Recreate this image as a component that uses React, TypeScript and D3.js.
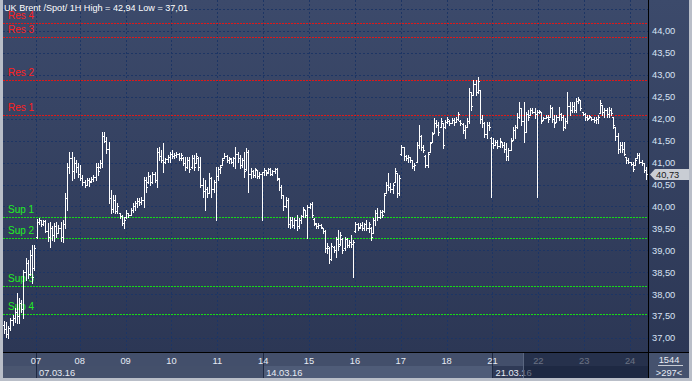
import React from "react";
import * as d3 from "d3";

const title = "UK Brent /Spot/ 1H High = 42,94 Low = 37,01";

// hourly OHLC bars, one entry per bar (04.03 tail, then 07.03 ... 24.03)
const opens = [
  // 04
  37.30,37.20,37.10,37.22,37.40,37.45,37.60,37.50,37.80,37.65,38.50,38.70,38.45,38.90,38.60,
  // 07
  39.30,39.65,39.68,39.60,39.66,39.45,39.30,39.50,39.35,39.55,39.40,39.50,39.30,39.60,40.20,40.90,41.10,40.80,41.00,40.90,
  // 08
  40.75,40.65,40.55,40.50,40.60,40.58,40.62,40.68,40.90,40.90,41.00,41.60,41.50,41.30,40.20,39.95,40.15,39.90,39.85,39.78,39.62,
  // 09
  39.75,39.85,39.80,39.92,40.00,40.08,40.12,40.10,40.15,40.60,40.55,40.70,40.55,40.75,40.60,41.25,41.15,41.05,41.02,41.08,41.12,
  // 10
  41.20,41.15,41.18,41.20,41.10,41.10,41.00,40.90,41.05,40.90,41.10,41.00,41.10,40.90,40.50,40.35,40.40,40.30,40.65,40.40,40.55,
  // 11
  40.70,40.85,40.94,41.10,41.15,41.05,41.08,41.02,41.10,41.20,41.10,40.95,41.05,40.85,41.25,40.75,40.80,40.72,40.83,40.70,40.75,
  // 14
  40.78,40.82,40.78,40.85,40.75,40.80,40.85,40.62,40.45,40.25,40.00,40.15,39.60,39.70,39.58,39.68,39.55,39.70,39.78,39.92,39.80,
  // 15
  39.98,40.05,39.72,39.60,39.55,39.58,39.50,39.44,39.05,39.05,38.80,39.08,39.00,39.25,39.15,39.25,39.05,39.25,39.12,39.20,39.15,
  // 16
  39.45,39.60,39.52,39.58,39.50,39.60,39.50,39.50,39.40,39.70,39.85,39.75,39.88,39.90,40.31,40.50,40.45,40.40,40.56,40.76,40.30,
  // 17
  41.20,41.35,41.15,41.10,41.12,41.05,40.92,41.01,41.40,41.60,41.35,41.15,40.95,41.24,41.47,41.67,41.90,41.85,41.81,41.90,41.80,
  // 18
  41.92,41.95,41.90,41.98,41.93,42.00,41.95,41.88,41.75,41.82,41.95,42.60,42.54,42.80,42.60,42.65,42.00,41.90,41.65,41.85,41.55,
  // 21
  41.45,41.40,41.48,41.38,41.47,41.40,41.30,41.15,41.29,41.52,41.75,41.80,42.05,42.25,41.95,41.70,42.10,42.09,42.20,42.15,42.10,
  // 22
  42.15,42.16,41.97,42.02,42.05,42.04,42.25,42.00,41.93,42.05,42.10,42.05,41.80,41.95,42.30,42.20,42.30,42.20,42.40,42.43,42.15,
  // 23
  42.10,42.05,42.02,42.04,42.00,41.96,42.00,42.13,42.31,42.15,42.20,42.10,42.20,42.04,41.81,41.60,41.30,41.40,41.30,41.13,41.05,
  // 24
  41.01,40.97,40.95,41.10,41.18,41.02,40.98,40.82,
];
const highs = [
  37.39,37.37,37.27,37.46,37.52,37.68,38.03,37.91,37.87,38.55,38.82,38.78,39.01,39.12,39.12,
  39.71,39.74,39.69,39.69,39.69,39.62,39.65,39.55,39.62,39.65,39.58,39.65,39.69,40.31,40.99,41.24,41.24,41.13,41.06,40.99,
  40.94,40.72,40.60,40.65,40.65,40.67,40.72,40.99,40.99,41.06,41.70,41.70,41.58,41.47,40.37,40.26,40.26,40.08,39.85,39.80,39.76,
  39.92,39.85,39.96,40.08,40.12,40.19,40.19,40.22,40.67,40.67,40.79,40.72,40.79,40.79,41.33,41.36,41.29,41.45,41.10,41.17,41.24,
  41.29,41.22,41.24,41.22,41.22,41.13,41.13,41.13,41.13,41.17,41.17,41.22,41.13,41.13,40.65,40.60,40.44,40.76,40.67,40.60,40.90,
  40.90,40.94,41.10,41.22,41.17,41.13,41.10,41.13,41.36,41.24,41.17,41.10,41.24,41.33,41.29,40.88,40.83,40.88,40.83,40.79,40.79,
  40.88,40.83,40.88,40.88,40.83,40.88,40.88,40.65,40.49,40.26,40.22,40.19,39.76,39.76,39.74,39.80,39.74,39.80,39.99,39.92,40.03,
  40.08,40.10,39.74,39.62,39.62,39.60,39.51,39.46,39.17,39.08,39.17,39.10,39.30,39.46,39.42,39.28,39.30,39.28,39.24,39.35,39.24,
  39.65,39.62,39.62,39.65,39.62,39.69,39.65,39.53,39.74,39.92,39.96,39.92,39.92,40.31,40.56,40.76,40.53,40.53,40.88,40.76,40.72,
  41.40,41.36,41.17,41.17,41.13,41.06,40.99,41.47,41.86,41.63,41.40,41.17,41.24,41.47,41.70,42.02,41.97,41.92,42.02,41.90,41.97,
  42.04,41.97,42.02,42.02,42.04,42.16,41.97,41.90,41.86,42.02,42.70,42.61,42.88,42.88,42.94,42.65,42.09,41.93,41.93,41.93,41.58,
  41.56,41.52,41.52,41.56,41.47,41.47,41.45,41.33,41.56,41.81,41.86,42.13,42.38,42.25,42.38,42.16,42.20,42.25,42.25,42.25,42.20,
  42.20,42.16,42.04,42.09,42.09,42.31,42.27,42.09,42.09,42.27,42.13,42.09,42.02,42.61,42.38,42.38,42.38,42.47,42.50,42.43,42.15,
  42.13,42.09,42.09,42.04,42.04,42.04,42.09,42.43,42.31,42.25,42.25,42.27,42.25,42.04,41.81,41.67,41.47,41.47,41.47,41.13,41.10,
  41.01,41.01,41.10,41.22,41.22,41.06,40.99,40.90,
];
const lows = [
  37.12,37.02,37.01,37.18,37.30,37.37,37.34,37.34,37.59,37.46,38.32,38.37,38.44,38.26,38.55,
  39.28,39.60,39.55,39.58,39.42,39.21,39.08,39.24,39.21,39.30,39.40,39.21,39.19,39.51,39.92,40.76,40.60,40.65,40.79,40.67,
  40.60,40.49,40.44,40.49,40.47,40.56,40.58,40.60,40.72,40.88,40.90,41.47,41.22,40.08,39.85,39.87,39.85,39.85,39.74,39.58,39.51,
  39.74,39.76,39.80,39.87,39.92,39.99,40.03,40.06,39.99,40.33,40.53,40.49,40.53,40.56,40.44,41.06,41.01,40.79,40.99,41.01,41.01,
  41.11,41.11,41.13,41.06,41.06,40.95,40.83,40.88,40.79,40.88,40.83,40.99,40.83,40.44,40.22,39.92,40.22,40.31,40.22,40.33,39.69,
  40.60,40.76,40.94,41.10,41.01,40.99,40.99,40.92,40.88,41.01,40.88,40.90,40.67,40.83,40.33,40.65,40.67,40.67,40.65,40.65,39.69,
  40.72,40.72,40.76,40.72,40.72,40.76,40.60,40.37,40.19,39.92,39.99,39.53,39.51,39.53,39.51,39.46,39.51,39.62,39.76,39.76,39.28,
  39.96,39.76,39.58,39.51,39.51,39.51,39.40,38.96,38.94,38.71,38.78,38.96,38.85,39.01,39.12,38.94,39.01,39.08,39.08,39.08,38.39,
  39.42,39.46,39.51,39.46,39.46,39.46,39.42,39.24,39.40,39.58,39.69,39.74,39.76,39.87,40.31,40.37,40.33,40.31,40.56,40.22,40.26,
  41.17,41.06,41.06,41.01,41.01,40.88,40.83,41.01,41.33,41.29,41.24,40.90,40.90,41.24,41.47,41.67,41.81,41.63,41.81,41.33,41.79,
  41.90,41.86,41.90,41.86,41.93,41.97,41.86,41.67,41.56,41.81,41.90,42.20,42.54,42.54,42.59,41.90,41.81,41.58,41.56,41.74,40.21,
  41.33,41.40,41.33,41.36,41.36,41.24,41.06,41.06,41.29,41.52,41.56,41.79,42.02,41.86,41.47,41.70,41.97,42.09,42.13,42.02,40.21,
  42.13,41.90,41.97,42.02,41.93,42.04,41.93,41.81,41.93,41.97,41.97,41.74,41.79,41.90,42.09,42.15,42.15,42.15,42.36,42.20,42.09,
  41.97,41.97,42.02,41.97,41.93,41.90,41.90,42.13,42.09,42.04,42.04,42.04,42.09,41.79,41.52,41.22,41.24,41.24,41.17,40.99,40.99,
  40.95,40.81,40.95,41.10,40.99,40.95,40.79,40.62,
];
const closes = [
  37.20,37.10,37.22,37.40,37.45,37.60,37.50,37.80,37.65,38.50,38.70,38.45,38.90,38.40,39.05,
  39.65,39.68,39.60,39.66,39.45,39.30,39.50,39.35,39.55,39.40,39.50,39.30,39.60,40.20,40.90,41.10,40.80,41.00,40.90,40.75,
  40.65,40.55,40.50,40.60,40.55,40.62,40.68,40.90,40.80,41.00,41.60,41.50,41.30,40.20,39.95,40.15,39.90,40.00,39.78,39.62,39.70,
  39.85,39.80,39.92,40.00,40.08,40.12,40.10,40.15,40.60,40.45,40.70,40.55,40.75,40.60,41.25,41.15,41.05,41.02,41.08,41.12,41.20,
  41.15,41.18,41.20,41.10,41.18,41.00,40.90,41.05,40.85,41.10,40.90,41.15,40.90,40.50,40.35,40.40,40.30,40.65,40.40,40.55,40.70,
  40.85,40.90,41.05,41.15,41.05,41.10,41.02,41.10,41.20,41.10,40.95,41.05,40.80,41.25,40.75,40.80,40.72,40.85,40.70,40.75,40.78,
  40.82,40.76,40.85,40.75,40.80,40.85,40.65,40.45,40.25,40.00,40.15,39.60,39.70,39.58,39.68,39.55,39.70,39.78,39.95,39.80,39.98,
  40.05,39.80,39.62,39.55,39.58,39.53,39.44,39.05,39.10,38.80,39.10,39.00,39.25,39.10,39.35,39.00,39.25,39.12,39.20,39.15,39.20,
  39.60,39.50,39.58,39.50,39.60,39.50,39.60,39.30,39.70,39.85,39.75,39.88,39.80,40.25,40.50,40.45,40.40,40.50,40.80,40.30,40.65,
  41.35,41.15,41.10,41.12,41.05,40.92,40.95,41.40,41.60,41.35,41.28,40.95,41.20,41.45,41.65,41.90,41.85,41.70,41.95,41.40,41.92,
  42.00,41.90,41.98,41.92,42.00,42.10,41.90,41.75,41.80,41.95,42.60,42.30,42.80,42.60,42.85,42.00,41.90,41.65,41.85,41.80,41.45,
  41.40,41.48,41.38,41.50,41.40,41.30,41.15,41.28,41.50,41.75,41.80,42.05,42.25,41.95,41.70,42.10,42.05,42.20,42.15,42.10,42.15,
  42.18,41.95,42.02,42.05,42.00,42.25,42.00,41.90,42.05,42.10,42.05,41.80,41.95,42.30,42.20,42.30,42.20,42.40,42.45,42.25,42.10,
  42.05,42.00,42.06,42.00,41.96,42.00,42.05,42.35,42.15,42.20,42.10,42.20,42.12,41.85,41.60,41.30,41.40,41.30,41.20,41.05,41.02,
  40.97,40.85,41.05,41.18,41.02,40.98,40.82,40.73,
];

const dayLabels = ["07", "08", "09", "10", "11", "14", "15", "16", "17", "18", "21", "22", "23", "24"];
const dayStarts = [15, 35, 56, 77, 98, 119, 140, 161, 182, 203, 224, 245, 266, 287];
const weekLabels = ["07.03.16", "14.03.16", "21.03.16"];
const weekStarts = [15, 119, 224];
const priceTicks = [37, 37.5, 38, 38.5, 39, 39.5, 40, 40.5, 41, 41.5, 42, 42.5, 43, 43.5, 44];
const gridPrices = [37, 37.5, 38, 38.5, 39, 39.5, 40, 40.5, 41, 41.5, 42, 42.5, 43, 43.5, 44, 44.5];
const resNames = ["Res 1", "Res 2", "Res 3", "Res 4"];
const resLevels = [42.08, 42.88, 43.86, 44.18];
const supNames = ["Sup 1", "Sup 2", "Sup 3", "Sup 4"];
const supLevels = [39.76, 39.28, 38.19, 37.55];
const lastPrice = 40.73;
const totalBarsLabel = "1544";
const visibleBarsLabel = ">297<";

const fmt = (v: number) => v.toFixed(2).replace(".", ",");
const FONT = "'Liberation Sans', Arial, sans-serif";

export default function App() {
  const N = opens.length;
  const x = d3.scaleLinear().domain([0, 295.2]).range([3.25, 648]);
  const y = d3.scaleLinear().domain([37, 44]).range([338, 31]);
  const py = (v: number) => Math.round(y(v));

  const bars = d3.range(N).map((i) => {
    const cx = Math.floor(x(i + 0.5));
    const yh = py(highs[i]);
    const yl = py(lows[i]);
    return (
      <g key={i}>
        <rect x={cx} y={yh} width={1} height={Math.max(1, yl - yh + 1)} fill="#ffffff" />
        <rect x={cx - 1} y={py(opens[i])} width={1} height={1} fill="#ffffff" />
        <rect x={cx + 1} y={py(closes[i])} width={1} height={1} fill="#ffffff" />
      </g>
    );
  });

  const ly = y(lastPrice);
  const overlayX = 523;

  return (
    <>
      <style>{`body{margin:0;}`}</style>
      <svg width={692} height={381} style={{ display: "block" }} fontFamily={FONT} shapeRendering="crispEdges">
        <defs>
          <linearGradient id="bgGrad" x1="0" y1="0" x2="0" y2="1">
            <stop offset="0" stopColor="#3c4a6b" />
            <stop offset="1" stopColor="#2c3755" />
          </linearGradient>
          <clipPath id="plotClip">
            <rect x={3} y={0} width={645} height={352} />
          </clipPath>
        </defs>
        {/* frame */}
        <rect x={0} y={0} width={692} height={381} fill="#b9bec8" />
        <rect x={3} y={0} width={686} height={352} fill="url(#bgGrad)" />

        {/* grid */}
        <g clipPath="url(#plotClip)">
          {gridPrices.map((p) => (
            <line key={"h" + p} x1={3} x2={648} y1={py(p) + 0.5} y2={py(p) + 0.5} stroke="#1d3564" strokeDasharray="2,2" />
          ))}
          {dayStarts.map((d) => (
            <line key={"v" + d} x1={Math.round(x(d)) + 0.5} x2={Math.round(x(d)) + 0.5} y1={0} y2={352} stroke="#1d3564" strokeDasharray="2,2" />
          ))}
          {resLevels.map((r, i) => (
            <line key={"r" + i} x1={3} x2={648} y1={py(r) + 0.5} y2={py(r) + 0.5} stroke="#e01818" strokeDasharray="2,1" />
          ))}
          {supLevels.map((s, i) => (
            <line key={"s" + i} x1={3} x2={648} y1={py(s) + 0.5} y2={py(s) + 0.5} stroke="#16dc16" strokeDasharray="2,1" />
          ))}
        </g>

        {/* level labels */}
        <g fontSize={10} shapeRendering="auto">
          {resLevels.map((r, i) => (
            <text key={"rt" + i} x={8} y={py(r) - 4.5} fill="#ff2020">{resNames[i]}</text>
          ))}
          {supLevels.map((s, i) => (
            <text key={"st" + i} x={8} y={py(s) - 4.5} fill="#22ee22">{supNames[i]}</text>
          ))}
        </g>

        {/* bars */}
        <g clipPath="url(#plotClip)">{bars}</g>

        {/* title */}
        <text x={4} y={11} fontSize={9.1} fill="#ffffff" shapeRendering="auto">{title}</text>

        {/* right axis labels */}
        <g fontSize={9.3} fill="#d8e3f5" shapeRendering="auto">
          {priceTicks.map((p) => (
            <text key={"pt" + p} x={652} y={y(p) + 3.4}>{fmt(p)}</text>
          ))}
        </g>

        {/* last price marker */}
        <polygon
          points={`650,${ly} 655,${ly - 5.5} 689,${ly - 5.5} 689,${ly + 5.5} 655,${ly + 5.5}`}
          fill="#c9cdd4"
          shapeRendering="auto"
        />
        <text x={656} y={ly + 3.4} fontSize={9.3} fill="#1a1a1a">{fmt(lastPrice)}</text>

        {/* time axis rows */}
        <rect x={3} y={353} width={645} height={13} fill="#434f6b" />
        <rect x={3} y={366} width={33} height={12} fill="#4a5670" />
        <rect x={Math.round(x(weekStarts[0]))} y={366} width={Math.round(x(weekStarts[1])) - Math.round(x(weekStarts[0]))} height={12} fill="#44506b" />
        <rect x={Math.round(x(weekStarts[1]))} y={366} width={Math.round(x(weekStarts[2])) - Math.round(x(weekStarts[1]))} height={12} fill="#4f5c78" />
        <rect x={Math.round(x(weekStarts[2]))} y={366} width={648 - Math.round(x(weekStarts[2]))} height={12} fill="#2f3a56" />
        {weekStarts.map((w) => (
          <line key={"wl" + w} x1={Math.round(x(w)) + 0.5} x2={Math.round(x(w)) + 0.5} y1={353} y2={378} stroke="#1e2942" />
        ))}
        <g fontSize={9.3} fill="#e6ebf4" shapeRendering="auto">
          {dayStarts.map((d, i) => (
            <text key={"dl" + d} x={x(d)} y={364} textAnchor="middle">{dayLabels[i]}</text>
          ))}
          {weekStarts.map((w, i) => (
            <text key={"wt" + w} x={x(w) + 3} y={375.5}>{weekLabels[i]}</text>
          ))}
        </g>
        <rect x={overlayX} y={353} width={648 - overlayX} height={25} fill="rgb(20,30,55)" opacity={0.6} />
        <line x1={overlayX + 0.5} x2={overlayX + 0.5} y1={353} y2={378} stroke="#5a6680" />

        {/* bottom-right counter box */}
        <rect x={649} y={353} width={40} height={25} fill="#45526e" />
        <g fontSize={9.3} fill="#e8ecf4" textAnchor="middle" shapeRendering="auto">
          <text x={669} y={363}>{totalBarsLabel}</text>
          <text x={669} y={376}>{visibleBarsLabel}</text>
        </g>
        <line x1={658} x2={683} y1={365.5} y2={365.5} stroke="#c8ccd4" />

        {/* black separators */}
        <line x1={648.5} x2={648.5} y1={0} y2={378} stroke="#000000" />
        <line x1={3} x2={689} y1={352.5} y2={352.5} stroke="#000000" />
      </svg>
    </>
  );
}
